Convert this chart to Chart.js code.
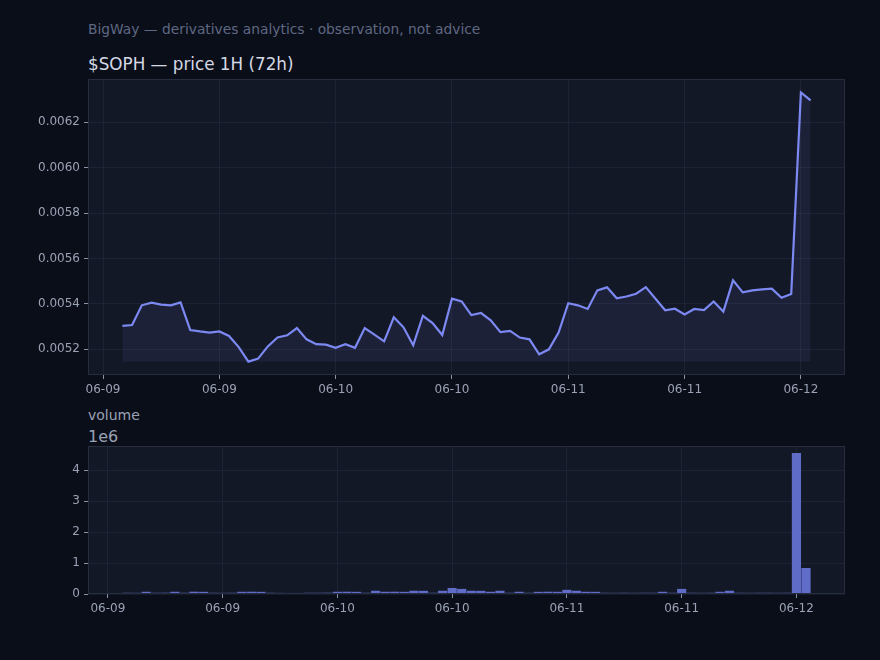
<!DOCTYPE html>
<html>
<head>
<meta charset="utf-8">
<script src="https://cdn.jsdelivr.net/npm/chart.js@4.4.1/dist/chart.umd.min.js"></script>
<style>
  body { margin: 0; background: #0a0e19; }
  #wrap { position: relative; width: 880px; height: 660px; background: #0a0e19; font-family: 'DejaVu Sans', sans-serif; }
  .t { position: absolute; left: 88px; white-space: nowrap; line-height: 1; }
  #sub { top: 23px; font-size: 13.8px; color: #5f6882; }
  #title { top: 56px; font-size: 16.8px; color: #d5d9e4; }
  #volTitle { top: 408px; font-size: 14px; color: #9aa2b5; }
  #volOffset { top: 429px; font-size: 16px; color: #9aa2b5; }
  canvas { position: absolute; left: 0; }
</style>
</head>
<body>
<div id="wrap">
  <div class="t" id="sub">BigWay — derivatives analytics · observation, not advice</div>
  <div class="t" id="title">$SOPH — price 1H (72h)</div>
  <div class="t" id="volTitle">volume</div>
  <div class="t" id="volOffset">1e6</div>
  <canvas id="priceChart" width="880" height="400" style="top:0"></canvas>
  <canvas id="volumeChart" width="880" height="260" style="top:400px"></canvas>
</div>
<script>
// hourly candles, 06-09 02:00 -> 06-12 01:00
const times = [
  "06-09 02:00","06-09 03:00","06-09 04:00","06-09 05:00","06-09 06:00","06-09 07:00","06-09 08:00","06-09 09:00",
  "06-09 10:00","06-09 11:00","06-09 12:00","06-09 13:00","06-09 14:00","06-09 15:00","06-09 16:00","06-09 17:00",
  "06-09 18:00","06-09 19:00","06-09 20:00","06-09 21:00","06-09 22:00","06-09 23:00",
  "06-10 00:00","06-10 01:00","06-10 02:00","06-10 03:00","06-10 04:00","06-10 05:00","06-10 06:00","06-10 07:00",
  "06-10 08:00","06-10 09:00","06-10 10:00","06-10 11:00","06-10 12:00","06-10 13:00","06-10 14:00","06-10 15:00",
  "06-10 16:00","06-10 17:00","06-10 18:00","06-10 19:00","06-10 20:00","06-10 21:00","06-10 22:00","06-10 23:00",
  "06-11 00:00","06-11 01:00","06-11 02:00","06-11 03:00","06-11 04:00","06-11 05:00","06-11 06:00","06-11 07:00",
  "06-11 08:00","06-11 09:00","06-11 10:00","06-11 11:00","06-11 12:00","06-11 13:00","06-11 14:00","06-11 15:00",
  "06-11 16:00","06-11 17:00","06-11 18:00","06-11 19:00","06-11 20:00","06-11 21:00","06-11 22:00","06-11 23:00",
  "06-12 00:00","06-12 01:00"
];

const price = [
  0.005303, 0.005307, 0.005394, 0.005406, 0.005397, 0.005394, 0.005407, 0.005285,
  0.005279, 0.005274, 0.005279, 0.005259, 0.005210, 0.005146, 0.005159, 0.005213,
  0.005252, 0.005262, 0.005294, 0.005244, 0.005223, 0.005221,
  0.005207, 0.005223, 0.005207, 0.005294, 0.005265, 0.005235, 0.005341, 0.005297,
  0.005218, 0.005348, 0.005316, 0.005263, 0.005423, 0.005411, 0.005351, 0.005360,
  0.005328, 0.005276, 0.005281, 0.005252, 0.005244, 0.005178, 0.005200, 0.005274,
  0.005403, 0.005394, 0.005378, 0.005460, 0.005473, 0.005425, 0.005433, 0.005445,
  0.005474, 0.005423, 0.005372, 0.005379, 0.005354, 0.005378, 0.005373, 0.005411,
  0.005366, 0.005504, 0.005451, 0.005460, 0.005464, 0.005467, 0.005427, 0.005444,
  0.006332, 0.006297
];

const volume = [
  40000, 38000, 72000, 40000, 42000, 72000, 40000, 74000, 70000, 40000,
  38000, 40000, 72000, 74000, 70000, 40000, 36000, 34000, 34000, 40000,
  40000, 42000, 72000, 74000, 70000, 40000, 105000, 72000, 74000, 70000,
  105000, 102000, 40000, 105000, 195000, 165000, 105000, 102000, 72000, 105000,
  40000, 72000, 40000, 70000, 74000, 72000, 135000, 105000, 72000, 70000,
  40000, 38000, 40000, 38000, 40000, 40000, 72000, 40000, 165000, 40000,
  38000, 40000, 72000, 105000, 40000, 38000, 40000, 40000, 38000, 40000,
  4550000, 840000
];

const xTickHours = [0, 12, 24, 36, 48, 60, 72];
const xTickLabels = ["06-09", "06-09", "06-10", "06-10", "06-11", "06-11", "06-12"];
const priceTicks = [0.0052, 0.0054, 0.0056, 0.0058, 0.0060, 0.0062];
const volumeTicks = [0, 1, 2, 3, 4];
const volumeScale = 1e6;

const axesBg = '#131826';
const spineColor = '#262d3f';
const gridColor = 'rgba(52,60,86,0.3)';
const tickColor = '#8a93a8';
const labelColor = '#9aa2b5';
const lineColor = '#7c89f2';
const barColor = '#5f6cc8';

// hours since 06-09 00:00
function hourOf(s) {
  const [md, hm] = s.split(' ');
  return (parseInt(md.slice(3), 10) - 9) * 24 + parseInt(hm.slice(0, 2), 10);
}
const hours = times.map(hourOf);

const frame = {
  id: 'frame',
  beforeDraw(chart) {
    const { ctx, chartArea: a } = chart;
    ctx.save();
    ctx.fillStyle = axesBg;
    ctx.fillRect(a.left, a.top, a.right - a.left, a.bottom - a.top);
    ctx.restore();
  },
  afterDraw(chart) {
    const { ctx, chartArea: a } = chart;
    ctx.save();
    ctx.strokeStyle = spineColor;
    ctx.lineWidth = 1;
    ctx.strokeRect(Math.round(a.left) + 0.5, Math.round(a.top) + 0.5,
      Math.round(a.right - a.left) - 1, Math.round(a.bottom - a.top) - 1);
    ctx.restore();
  }
};

const tickFont = { family: "'DejaVu Sans', sans-serif", size: 12 };

function xAxis(min, max) {
  return {
    type: 'linear',
    min: min,
    max: max,
    offset: false,
    afterFit: s => { s.height = 25; },
    afterBuildTicks: s => { s.ticks = xTickHours.map(v => ({ value: v })); },
    grid: { color: gridColor, tickColor: tickColor, tickLength: 4, drawTicks: true, offset: false },
    border: { display: false },
    ticks: {
      color: labelColor, font: tickFont, padding: 4, autoSkip: false, maxRotation: 0,
      callback: (v, i) => xTickLabels[i]
    }
  };
}

function yAxis(min, max, ticks, fmt) {
  return {
    type: 'linear',
    min: min,
    max: max,
    afterFit: s => { s.width = 88; },
    afterBuildTicks: s => { s.ticks = ticks.map(v => ({ value: v })); },
    grid: { color: gridColor, tickColor: tickColor, tickLength: 4, drawTicks: true },
    border: { display: false },
    ticks: { color: labelColor, font: tickFont, padding: 4, callback: fmt }
  };
}

new Chart(document.getElementById('priceChart'), {
  type: 'line',
  data: {
    datasets: [{
      data: hours.map((h, i) => ({ x: h, y: price[i] })),
      borderColor: lineColor,
      borderWidth: 2.2,
      pointRadius: 0,
      tension: 0,
      fill: { value: Math.min(...price) },
      backgroundColor: 'rgba(124,137,242,0.09)'
    }]
  },
  options: {
    responsive: false,
    maintainAspectRatio: false,
    animation: false,
    layout: { padding: { left: 0, top: 79, right: 35, bottom: 0 } },
    plugins: { legend: { display: false }, tooltip: { enabled: false } },
    scales: {
      x: xAxis(-1.55, 76.55),
      y: yAxis(0.005087, 0.006391, priceTicks, v => v.toFixed(4))
    }
  },
  plugins: [frame]
});

new Chart(document.getElementById('volumeChart'), {
  type: 'bar',
  data: {
    datasets: [{
      data: hours.map((h, i) => ({ x: h, y: volume[i] / volumeScale })),
      backgroundColor: barColor,
      borderWidth: 0,
      categoryPercentage: 1,
      barPercentage: 0.96
    }]
  },
  options: {
    responsive: false,
    maintainAspectRatio: false,
    animation: false,
    layout: { padding: { left: 0, top: 46, right: 35, bottom: 41 } },
    plugins: { legend: { display: false }, tooltip: { enabled: false } },
    scales: {
      x: Object.assign(xAxis(-2.08, 77.08), { z: 1 }),
      y: Object.assign(yAxis(0, 4.78, volumeTicks, v => String(v)), { z: 1 })
    }
  },
  plugins: [frame]
});
</script>
</body>
</html>
